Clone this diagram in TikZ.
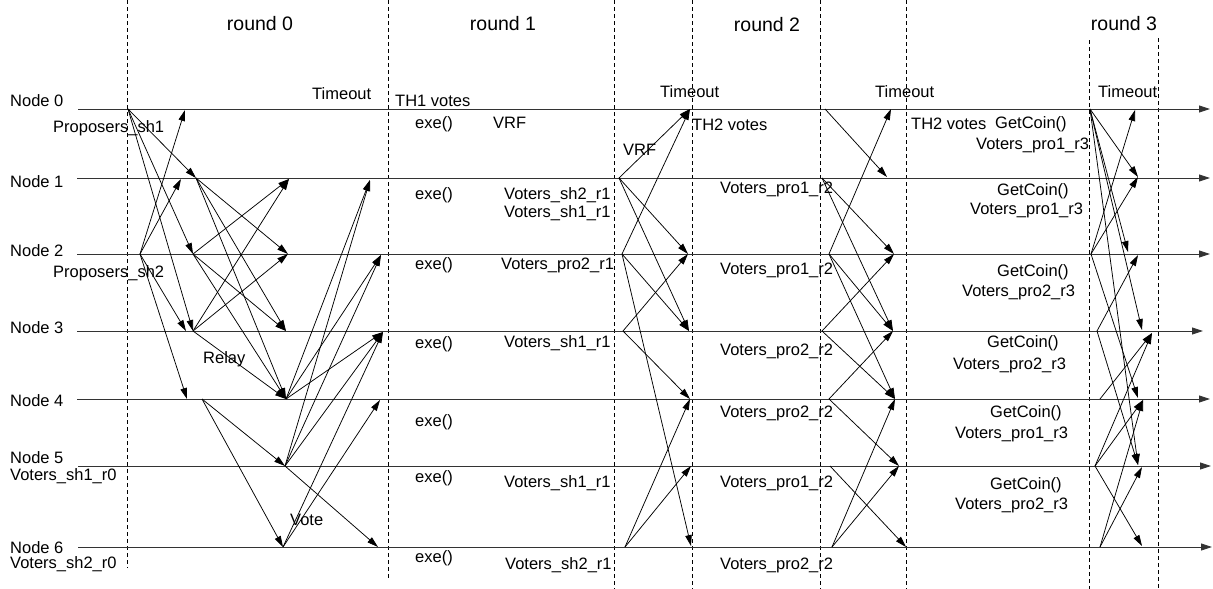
\documentclass[tikz,border=0pt]{standalone}
\usepackage{fontspec}
\setmainfont{Liberation Sans}
\usetikzlibrary{arrows.meta}

\newcommand{\lblfont}{\fontsize{16.5}{19}\selectfont}
\newcommand{\rndfont}{\fontsize{19.5}{23}\selectfont}

\tikzset{
  lane/.style={draw=black!80, line width=0.9pt, -{Triangle[length=11pt,width=7pt]}},
  msg/.style={draw=black, line width=0.75pt, -{Triangle[length=11pt,width=6.5pt]}},
  sep/.style={draw=black, line width=0.7pt, dash pattern=on 4pt off 3pt},
  lbl/.style={anchor=base west, inner sep=0pt, font=\lblfont},
  rnd/.style={anchor=base, inner sep=0pt, font=\rndfont},
}

\begin{document}
\begin{tikzpicture}[x=1pt,y=-1pt]
\useasboundingbox (0,0) rectangle (1213,589);

% ---------- round separators ----------
\foreach \n/\x/\ya/\yb in {s0/127/0/568, s1/388/0/578, s2/614/0/589, s3/692/0/589,
                           s4/820/0/589, s5/906/0/589, s6/1089/40/589, s7/1158/38/589}{
  \coordinate (\n t) at (\x,\ya);
  \coordinate (\n b) at (\x,\yb);
  \draw[sep] (\n t) -- (\n b);
}

% ---------- node time lines ----------
\foreach \i/\y/\xs/\xe in {0/109/78/1210, 1/178/77/1210, 2/254/77/1210, 3/331/77/1203,
                           4/399/77/1210, 5/466/78/1211, 6/547/78/1212}{
  \coordinate (L\i s) at (\xs,\y);
  \coordinate (L\i e) at (\xe,\y);
  \draw[lane] (L\i s) -- (L\i e);
}

% ---------- round labels ----------
\node[rnd] (rd0) at (260,30) {round 0};
\node[rnd] (rd1) at (503,30) {round 1};
\node[rnd] (rd2) at (767,31) {round 2};
\node[rnd] (rd3) at (1124,30) {round 3};

% ---------- node names ----------
\node[lbl] (n0) at (10,106) {Node 0};
\node[lbl] (n1) at (10,187) {Node 1};
\node[lbl] (n2) at (10,256) {Node 2};
\node[lbl] (n3) at (10,333) {Node 3};
\node[lbl] (n4) at (10,406) {Node 4};
\node[lbl] (n5) at (10,463) {Node 5};
\node[lbl] (v5) at (10,480) {Voters\_sh1\_r0};
\node[lbl] (n6) at (10,553) {Node 6};
\node[lbl] (v6) at (10,568) {Voters\_sh2\_r0};

% ---------- round 0 ----------
\coordinate (p1) at (128,109);
\coordinate (p2) at (140,254);
\coordinate (r1) at (196,178);
\coordinate (r2) at (193,254);
\coordinate (r3) at (193,331);
\coordinate (b0) at (185,110);
\coordinate (b1) at (181,179);
\coordinate (b3) at (186,331);
\coordinate (b4) at (187,399);
\coordinate (s4) at (202,399);
\coordinate (c1) at (289,179);
\coordinate (c2) at (288,254);
\coordinate (c3) at (286,331);
\coordinate (w4) at (286,399);
\coordinate (w5) at (285,466);
\coordinate (w6) at (283,547);
\coordinate (d1) at (370,180);
\coordinate (d2) at (381,255);
\coordinate (d3) at (383,332);
\coordinate (d4) at (380,400);
\coordinate (d6) at (378,547);

\foreach \a/\b in {p1/r1, p1/r2, p1/r3, p2/b0, p2/b1, p2/b3, p2/b4,
                   r1/c2, r1/c3, r1/w4, r2/c1, r2/c3, r2/w4, r3/c1, r3/c2, r3/w4,
                   s4/w5, s4/w6,
                   w4/d1, w4/d2, w4/d3, w5/d1, w5/d2, w5/d3, w5/d6, w6/d3, w6/d4}
  \draw[msg] (\a) -- (\b);

\node[lbl] (ps1) at (53,132) {Proposers\_sh1};
\node[lbl] (ps2) at (53,277) {Proposers\_sh2};
\node[lbl] (rly) at (203,363) {Relay};
\node[lbl] (vot) at (290,525) {Vote};
\node[lbl] (to0) at (312,99) {Timeout};

% ---------- round 1 ----------
\node[lbl] (th1) at (395,106) {TH1 votes};
\foreach \n/\y in {x1/128, x2/199, x3/269, x4/348, x5/426, x6/482, x7/562}
  \node[lbl] (\n) at (415,\y) {exe()};
\node[lbl] (vrf1) at (493,128) {VRF};
\node[lbl] (a11) at (504,199) {Voters\_sh2\_r1};
\node[lbl] (a12) at (504,217) {Voters\_sh1\_r1};
\node[lbl] (a13) at (501,269) {Voters\_pro2\_r1};
\node[lbl] (a14) at (504,347) {Voters\_sh1\_r1};
\node[lbl] (a15) at (504,487) {Voters\_sh1\_r1};
\node[lbl] (a16) at (505,569) {Voters\_sh2\_r1};

\coordinate (q1) at (619,178);
\coordinate (q2) at (622,254);
\coordinate (q3) at (623,331);
\coordinate (q6) at (625,547);
\coordinate (e0) at (690,109);
\coordinate (e2) at (688,254);
\coordinate (e3) at (689,331);
\coordinate (e4) at (690,399);
\coordinate (e5) at (691,466);
\coordinate (e6) at (691,546);
\foreach \a/\b in {q1/e0, q1/e2, q1/e3, q2/e0, q2/e3, q2/e6, q3/e2, q3/e4, q6/e4, q6/e5}
  \draw[msg] (\a) -- (\b);

\node[lbl] (vrf2) at (623,155) {VRF};
\node[lbl] (to1) at (660,97) {Timeout};

% ---------- round 2 ----------
\node[lbl] (th2a) at (692,130) {TH2 votes};
\node[lbl] (a21) at (720,193) {Voters\_pro1\_r2};
\node[lbl] (a22) at (720,274) {Voters\_pro1\_r2};
\node[lbl] (a23) at (720,355) {Voters\_pro2\_r2};
\node[lbl] (a24) at (720,417) {Voters\_pro2\_r2};
\node[lbl] (a25) at (720,487) {Voters\_pro1\_r2};
\node[lbl] (a26) at (720,569) {Voters\_pro2\_r2};

\coordinate (t0) at (825,109);
\coordinate (t1) at (822,178);
\coordinate (t2) at (829,254);
\coordinate (t3) at (822,331);
\coordinate (t4) at (829,399);
\coordinate (t5) at (830,466);
\coordinate (t6) at (832,547);
\coordinate (f0) at (891,109);
\coordinate (f1) at (887,177);
\coordinate (f2) at (894,254);
\coordinate (f3) at (893,331);
\coordinate (f4) at (895,399);
\coordinate (f5) at (899,466);
\coordinate (f6) at (906,547);
\foreach \a/\b in {t0/f1, t1/f2, t1/f3, t2/f0, t2/f3, t2/f4, t3/f2, t3/f4,
                   t4/f3, t4/f5, t5/f6, t6/f4, t6/f5}
  \draw[msg] (\a) -- (\b);

\node[lbl] (to2) at (875,97) {Timeout};

% ---------- round 3 ----------
\node[lbl] (th2b) at (911,129) {TH2 votes};
\node[lbl] (gc1) at (995,128) {GetCoin()};
\node[lbl] (a31) at (976,149) {Voters\_pro1\_r3};
\node[lbl] (gc2) at (997,195) {GetCoin()};
\node[lbl] (a32) at (970,214) {Voters\_pro1\_r3};
\node[lbl] (gc3) at (997,276) {GetCoin()};
\node[lbl] (a33) at (962,296) {Voters\_pro2\_r3};
\node[lbl] (gc4) at (987,347) {GetCoin()};
\node[lbl] (a34) at (953,369) {Voters\_pro2\_r3};
\node[lbl] (gc5) at (990,417) {GetCoin()};
\node[lbl] (a35) at (955,438) {Voters\_pro1\_r3};
\node[lbl] (gc6) at (990,489) {GetCoin()};
\node[lbl] (a36) at (955,509) {Voters\_pro2\_r3};

\coordinate (u0) at (1090,109);
\coordinate (u2) at (1091,254);
\coordinate (u3) at (1097,331);
\coordinate (u4) at (1100,399);
\coordinate (u5) at (1095,466);
\coordinate (u6) at (1100,547);
\coordinate (g0) at (1135,110);
\coordinate (g1) at (1138,177);
\coordinate (g2a) at (1128,252);
\coordinate (g2b) at (1138,255);
\coordinate (g3a) at (1142,330);
\coordinate (g3b) at (1152,333);
\coordinate (g4a) at (1138,398);
\coordinate (g4b) at (1143,400);
\coordinate (g5a) at (1138,465);
\coordinate (g5b) at (1142,467);
\coordinate (g6) at (1142,546);
\foreach \a/\b in {u0/g1, u0/g2a, u0/g3a, u0/g5a, u2/g0, u2/g1, u2/g4a,
                   u3/g2b, u3/g5a, u4/g3b, u5/g3b, u5/g4b, u5/g6, u6/g4b, u6/g5b}
  \draw[msg] (\a) -- (\b);

\node[lbl] (to3) at (1098,97) {Timeout};
\end{tikzpicture}
\end{document}
